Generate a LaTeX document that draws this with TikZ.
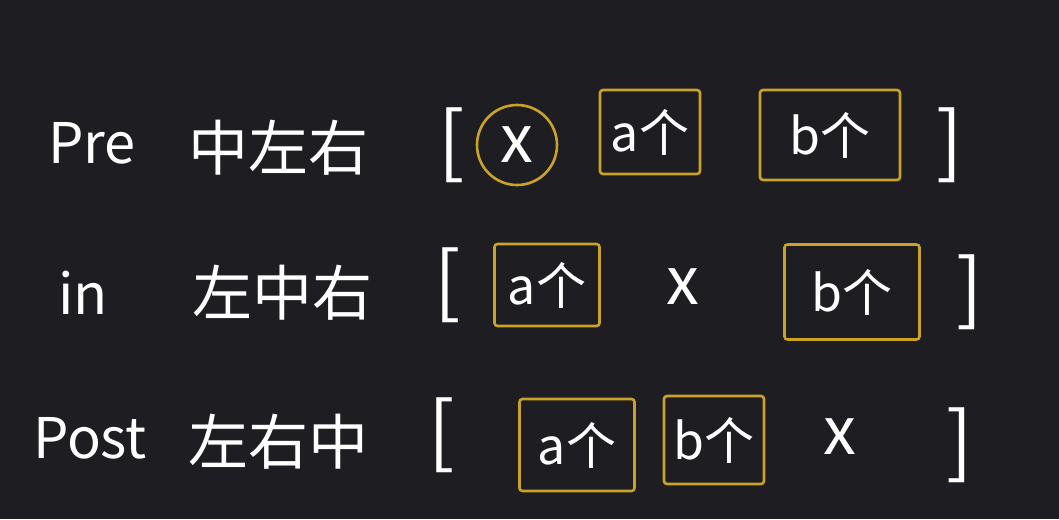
\documentclass[tikz,border=0pt]{standalone}
\usepackage{fontspec}
\setmainfont{Noto Sans CJK SC}
\definecolor{bg}{HTML}{1E1E22}
\definecolor{gold}{HTML}{C9A227}
\begin{document}
\begin{tikzpicture}[x=1pt,y=-1pt,
  txt/.style={text=white, inner sep=0pt, font=\fontsize{56}{60}\selectfont},
  cjk/.style={text=white, inner sep=0pt, font=\fontsize{60}{64}\selectfont},
  xsym/.style={text=white, inner sep=0pt, font=\fontsize{66}{70}\selectfont},
  brk/.style={text=white, inner sep=0pt, font=\fontsize{78}{84}\selectfont},
  hlbox/.style={draw=gold, line width=2.6pt, rounded corners=3pt, text=white, inner sep=0pt, font=\fontsize{50}{56}\selectfont},
  ring/.style={circle, draw=gold, line width=2.6pt, text=white, inner sep=0pt, minimum size=80pt, font=\fontsize{66}{70}\selectfont}]
\fill[bg] (0,0) rectangle (1059,519);
\useasboundingbox (0,0) rectangle (1059,519);
% Row 1
\node[txt] (pre) at (92,143) {Pre};
\node[cjk] (preorder) at (278,148) {中左右};
\node[brk] (l1) at (452,145) {[};
\node[ring] (x1) at (517,145) {x};
\node[hlbox, minimum width=100pt, minimum height=84pt] (a1) at (650,132) {a个};
\node[hlbox, minimum width=140pt, minimum height=90pt] (b1) at (830,135) {b个};
\node[brk] (r1) at (950,145) {]};
% Row 2
\node[txt] (in) at (83,293) {in};
\node[cjk] (inorder) at (282,293) {左中右};
\node[brk] (l2) at (448,285) {[};
\node[hlbox, minimum width=105pt, minimum height=82pt] (a2) at (547,285) {a个};
\node[xsym] (x2) at (683,287) {x};
\node[hlbox, minimum width=135pt, minimum height=95pt] (b2) at (852,292) {b个};
\node[brk] (r2) at (970,292) {]};
% Row 3
\node[txt] (post) at (90,438) {Post};
\node[cjk] (postorder) at (278,442) {左右中};
\node[brk] (l3) at (442,435) {[};
\node[hlbox, minimum width=115pt, minimum height=92pt] (a3) at (577,445) {a个};
\node[hlbox, minimum width=100pt, minimum height=88pt] (b3) at (714,440) {b个};
\node[xsym] (x3) at (840,437) {x};
\node[brk] (r3) at (960,445) {]};
\end{tikzpicture}
\end{document}
